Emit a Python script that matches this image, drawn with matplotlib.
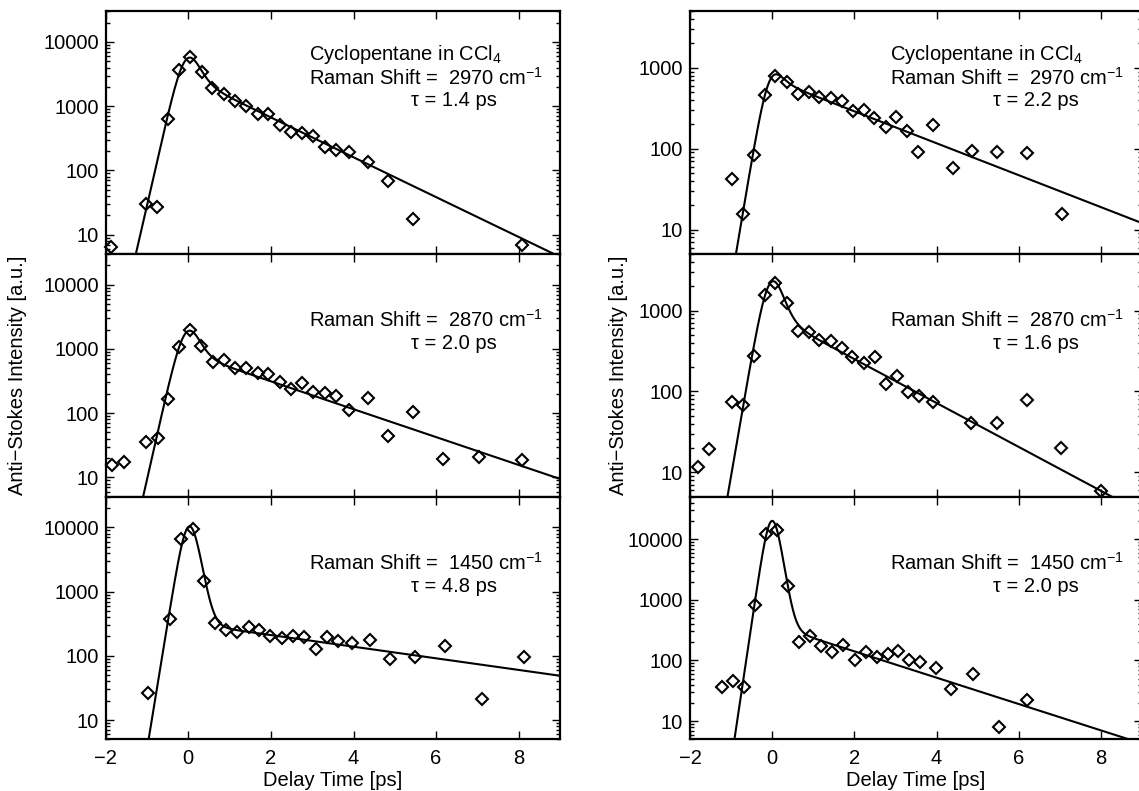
import numpy as np
import matplotlib
matplotlib.use("Agg")
import matplotlib.pyplot as plt
from matplotlib.ticker import LogLocator, NullLocator, NullFormatter, FixedLocator

plt.rcParams['font.family'] = ['Liberation Sans', 'DejaVu Sans']
plt.rcParams['mathtext.fontset'] = 'custom'
plt.rcParams['mathtext.rm'] = 'Liberation Sans'
plt.rcParams['mathtext.it'] = 'Liberation Sans:italic'
plt.rcParams['mathtext.bf'] = 'Liberation Sans:bold'
plt.rcParams['axes.unicode_minus'] = True

FS = 14.5

# ---- measured anti-Stokes signals (delay in ps, intensity in a.u.) ----
left_2970_t = [-1.86, -1.02, -0.76, -0.49, -0.23, 0.04, 0.32, 0.58, 0.86, 1.13, 1.40, 1.68,
               1.94, 2.22, 2.49, 2.76, 3.03, 3.30, 3.57, 3.90, 4.34, 4.84, 5.45, 8.07]
left_2970_i = [6.5, 30.5, 27, 630, 3700, 5800, 3350, 1890, 1550, 1210, 1010, 760,
               750, 510, 390, 380, 340, 235, 205, 196, 137, 68, 17.5, 6.8]

left_2870_t = [-1.84, -1.55, -1.02, -0.74, -0.49, -0.23, 0.04, 0.31, 0.59, 0.86, 1.13, 1.40,
               1.68, 1.94, 2.22, 2.49, 2.76, 3.03, 3.30, 3.57, 3.90, 4.34, 4.84, 5.45, 6.16,
               7.03, 8.07]
left_2870_i = [15.5, 17.4, 35, 41, 163, 1070, 1980, 1120, 630, 670, 510, 510,
               420, 410, 310, 234, 290, 214, 204, 185, 112, 170, 44, 105, 19,
               21, 18.6]

left_1450_t = [-0.98, -0.45, -0.17, 0.12, 0.39, 0.65, 0.92, 1.18, 1.46, 1.72, 1.99, 2.26,
               2.53, 2.80, 3.08, 3.35, 3.62, 3.96, 4.39, 4.89, 5.48, 6.21, 7.10, 8.12]
left_1450_i = [26.7, 374, 6650, 9400, 1440, 320, 252, 237, 283, 252, 204, 187,
               205, 198, 126, 198, 170, 156, 176, 88, 96, 141, 21, 96]

right_2970_t = [-0.99, -0.71, -0.45, -0.18, 0.08, 0.36, 0.62, 0.89, 1.15, 1.42, 1.69, 1.96,
                2.23, 2.49, 2.76, 3.02, 3.29, 3.56, 3.91, 4.40, 4.87, 5.47, 6.19, 7.05]
right_2970_i = [42, 15.6, 84, 464, 782, 677, 472, 509, 442, 421, 390, 294,
                302, 238, 188, 245, 168, 90, 197, 57, 95, 92, 88, 15.8]

right_2870_t = [-1.81, -1.53, -0.99, -0.71, -0.45, -0.18, 0.08, 0.36, 0.62, 0.89, 1.15, 1.42,
                1.69, 1.95, 2.23, 2.50, 2.76, 3.04, 3.31, 3.57, 3.92, 4.85, 5.47, 6.19,
                7.04, 8.01]
right_2870_i = [11.8, 19.3, 73, 67, 277, 1560, 2220, 1230, 566, 550, 433, 425,
                342, 263, 224, 265, 123, 156, 98, 88, 73, 41, 41, 78.5,
                19.8, 5.9]

right_1450_t = [-1.21, -0.95, -0.69, -0.42, -0.16, 0.12, 0.39, 0.65, 0.91, 1.18, 1.46, 1.72,
                2.01, 2.28, 2.54, 2.81, 3.07, 3.34, 3.60, 3.98, 4.36, 4.89, 5.51, 6.21]
right_1450_i = [36, 45, 36, 807, 12200, 14200, 1660, 200, 255, 170, 137, 181,
                100, 137, 116, 129, 145, 100, 96, 74, 34, 60, 7.9, 22.5]

# ---- fit parameters: sech^2 pulse response plus exponential population decay ----
raman_shifts = [2970, 2870, 1450]
tau_left = [1.4, 2.0, 4.8]
tau_right = [2.2, 1.6, 2.0]
t0_left = [0.0, 0.0, 0.03]
t0_right = [0.0, 0.0, 0.0]
width_left = [0.30, 0.30, 0.22]
width_right = [0.28, 0.29, 0.19]
spike_left = [4250, 1475, 10200]
spike_right = [420, 1850, 19800]
amp_left = [2788, 850, 317]
amp_right = [720, 876, 384]

ylim_left = [(5, 30000), (5, 30000), (5, 30000)]
ylim_right = [(5, 5000), (5, 5000), (5, 50000)]

xticks = [-2, 0, 2, 4, 6, 8]


def fit_curve(t, t0, w, spike, amp, tau):
    u = (t - t0) / w
    return spike / np.cosh(u) ** 2 + amp * np.exp(-(t - t0) / tau) * 0.5 * (1.0 + np.tanh(u))


fig = plt.figure(figsize=(11.39, 7.91), dpi=100)

W, H = 1139.0, 791.0
col_x = [105.7 / W, 690.0 / W]
col_w = [454.3 / W, 452.0 / W]
row_top = [11.3, 254.0, 496.7]
row_h = 242.67 / H

data = {
    0: [(left_2970_t, left_2970_i), (left_2870_t, left_2870_i), (left_1450_t, left_1450_i)],
    1: [(right_2970_t, right_2970_i), (right_2870_t, right_2870_i), (right_1450_t, right_1450_i)],
}
params = {
    0: (t0_left, width_left, spike_left, amp_left, tau_left, ylim_left),
    1: (t0_right, width_right, spike_right, amp_right, tau_right, ylim_right),
}

# text anchor positions (axes fraction) for the panel annotations
txt_x = {0: (0.447, 0.673), 1: (0.442, 0.671)}
title_y = 0.822
raman_y = 0.727
tau_y = 0.632

t_grid = np.linspace(-2, 9, 1200)

for col in (0, 1):
    t0s, ws, spikes, amps, taus, ylims = params[col]
    for row in range(3):
        bottom = 1 - (row_top[row] + 242.67) / H
        ax = fig.add_axes([col_x[col], bottom, col_w[col], row_h])
        t, inten = data[col][row]
        fit = fit_curve(t_grid, t0s[row], ws[row], spikes[row], amps[row], taus[row])
        ax.plot(t_grid, fit, color='black', lw=1.5, zorder=2)
        ax.plot(t, inten, linestyle='none', marker='D', ms=6.2, mfc='none', mec='black',
                mew=1.5, clip_on=False, zorder=3)
        ax.set_yscale('log')
        ax.set_xlim(-2, 9)
        ax.set_ylim(*ylims[row])
        ax.xaxis.set_major_locator(FixedLocator(xticks))
        ax.xaxis.set_minor_locator(NullLocator())
        ax.yaxis.set_major_locator(LogLocator(base=10, numticks=10))
        ax.yaxis.set_minor_locator(LogLocator(base=10, subs=np.arange(2, 10), numticks=20))
        ax.yaxis.set_minor_formatter(NullFormatter())
        ax.yaxis.set_major_formatter(plt.FuncFormatter(lambda v, p: f"{int(round(v))}"))
        ax.tick_params(which='both', direction='in', top=True, right=True, width=1.0,
                       labelsize=FS)
        ax.tick_params(axis='y', pad=5)
        ax.tick_params(axis='x', pad=7)
        ax.tick_params(which='major', length=5.5)
        ax.tick_params(which='minor', length=3)
        for sp in ax.spines.values():
            sp.set_linewidth(1.6)
        if row < 2:
            ax.tick_params(axis='x', labelbottom=False)
        else:
            ax.set_xlabel('Delay Time [ps]', fontsize=FS, labelpad=2)
        if row == 0:
            ax.text(txt_x[col][0], title_y, 'Cyclopentane in CCl$_4$', transform=ax.transAxes,
                    fontsize=FS, ha='left', va='center')
        ax.text(txt_x[col][0], raman_y,
                f'Raman Shift =  {raman_shifts[row]} cm$^{{\u2212 1}}$',
                transform=ax.transAxes, fontsize=FS, ha='left', va='center')
        ax.text(txt_x[col][1], tau_y, f'\u03c4 = {taus[row]:.1f} ps',
                transform=ax.transAxes, fontsize=FS, ha='left', va='center')

fig.text(18 / W, 1 - 375.3 / H, 'Anti\u2212Stokes Intensity [a.u.]', rotation=90,
         ha='center', va='center', fontsize=FS)
fig.text(618 / W, 1 - 375.3 / H, 'Anti\u2212Stokes Intensity [a.u.]', rotation=90,
         ha='center', va='center', fontsize=FS)

fig.savefig('out.png', dpi=100)
